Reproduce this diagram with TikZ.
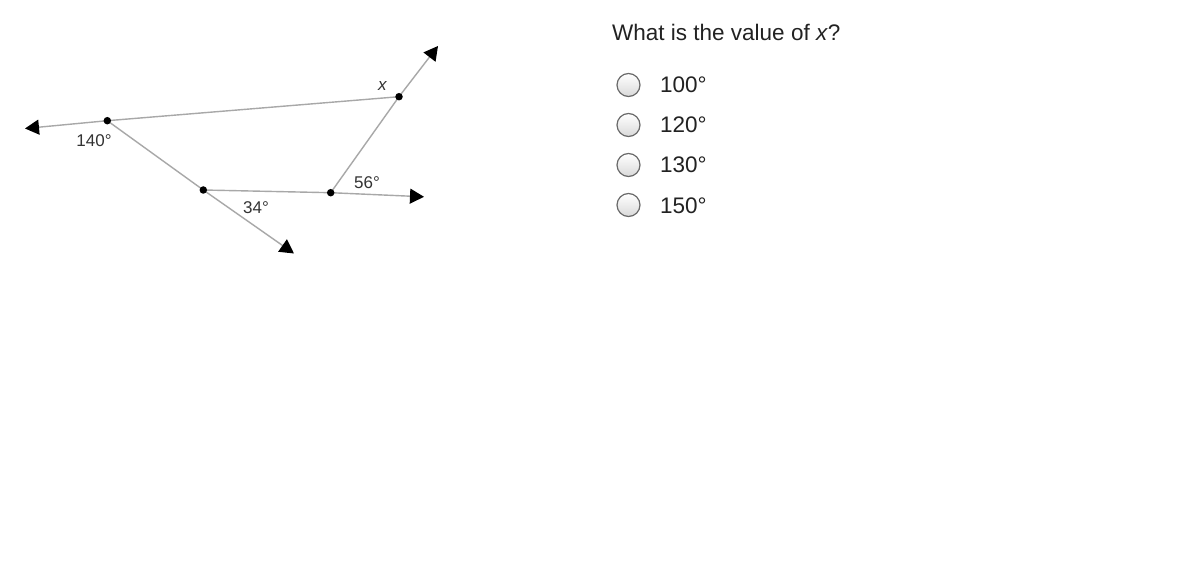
\documentclass[tikz,border=0pt]{standalone}
\usepackage{fontspec}
\setmainfont{Liberation Sans}
\usetikzlibrary{arrows.meta}
\definecolor{linegray}{HTML}{A8A8A8}
\definecolor{txt}{HTML}{222222}
\definecolor{lbl}{HTML}{333333}
\definecolor{radioedge}{HTML}{6A6A6A}
\tikzset{
  ray/.style={draw=linegray, line width=1.4pt},
  arrowray/.style={ray, -{Triangle[length=14pt,width=15pt,fill=black,color=black]}},
  dot/.style={circle, fill=black, inner sep=0pt, minimum size=7.5pt},
  anglbl/.style={font=\fontsize{17}{20}\selectfont, text=lbl},
  question/.style={font=\fontsize{22.5}{27}\selectfont, text=txt, anchor=base west, inner sep=0pt},
  radio/.style={circle, draw=radioedge, line width=1.2pt, minimum size=23pt, inner sep=0pt, top color=white, bottom color=black!15},
  optlbl/.style={font=\fontsize{22.5}{27}\selectfont, text=txt, anchor=base west, inner sep=0pt}
}
\begin{document}
\begin{tikzpicture}[x=1pt,y=-1pt]
\fill[white] (0,0) rectangle (1200,575);
\useasboundingbox (0,0) rectangle (1200,575);
% points
\coordinate (A) at (107.3,120.7);
\coordinate (B) at (399,96.7);
\coordinate (C) at (203.3,190);
\coordinate (D) at (330.7,192.7);
\coordinate (Ltip) at (25,128.5);
\coordinate (URtip) at (438,46);
\coordinate (Rtip) at (424,196.8);
\coordinate (LOtip) at (294,253.5);
% lines
\draw[ray] (A) -- (B);
\draw[ray] (C) -- (D);
\draw[ray] (A) -- (C);
\draw[ray] (D) -- (B);
\draw[arrowray] (A) -- (Ltip);
\draw[arrowray] (C) -- (LOtip);
\draw[arrowray] (D) -- (Rtip);
\draw[arrowray] (B) -- (URtip);
% dots
\node[dot] (nA) at (A) {};
\node[dot] (nB) at (B) {};
\node[dot] (nC) at (C) {};
\node[dot] (nD) at (D) {};
% angle labels
\node[anglbl] (l140) at (94,141) {140°};
\node[anglbl] (l34) at (256,208) {34°};
\node[anglbl] (l56) at (367,182.5) {56°};
\node[anglbl] (lx) at (382.5,86) {\textit{x}};
% question
\node[question] (q) at (612,41) {What is the value of \textit{x}?};
\node[radio] (r1) at (628.5,85) {};
\node[radio] (r2) at (628.5,125) {};
\node[radio] (r3) at (628.5,165) {};
\node[radio] (r4) at (628.5,205) {};
\node[optlbl] (o1) at (660,93) {100°};
\node[optlbl] (o2) at (660,133) {120°};
\node[optlbl] (o3) at (660,173) {130°};
\node[optlbl] (o4) at (660,213) {150°};
\end{tikzpicture}
\end{document}
